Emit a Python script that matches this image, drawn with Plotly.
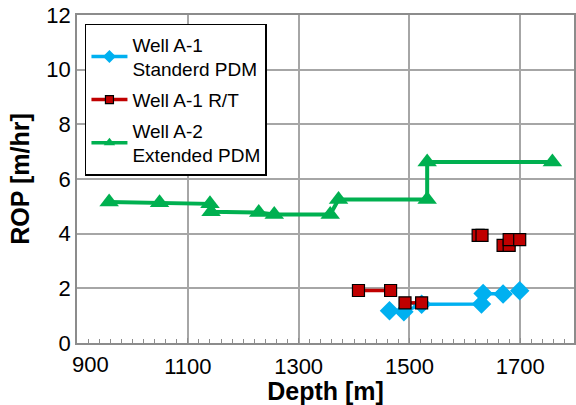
import plotly.graph_objects as go

# Well A-1 Standard PDM (blue diamonds)
a1_depth = [1464, 1490, 1522, 1630, 1633, 1669, None, 1699]
a1_rop = [1.18, 1.14, 1.42, 1.43, 1.81, 1.79, None, 1.91]

# Well A-1 R/T (red squares)
rt_depth = [1408, 1466, None, 1492, 1522, None, 1624, 1631, None, 1669, 1680, None, 1680, 1699]
rt_rop = [1.92, 1.92, None, 1.47, 1.47, None, 3.94, 3.94, None, 3.57, 3.57, None, 3.78, 3.78]

# Well A-2 Extended PDM (green triangles)
a2_depth = [958, 1049, 1140, 1142, 1228, 1256, 1357, 1372, 1532, 1532, 1758]
a2_rop = [5.16, 5.13, 5.09, 4.8, 4.77, 4.7, 4.7, 5.25, 5.25, 6.62, 6.62]

x_ticks = [900, 1100, 1300, 1500, 1700]
x_labels = ["", "1100", "1300", "1500", "1700"]  # "900" is drawn shifted right, as in the reference
first_x_label = "900"
y_ticks = [0, 2, 4, 6, 8, 10, 12]

series_names = ["Well A-1<br>Standerd PDM", "Well A-1 R/T", "Well A-2<br>Extended PDM"]

FONT = "Liberation Sans, Arial, sans-serif"
BLUE, RED, GREEN = "#00B0F0", "#C00000", "#00B050"

fig = go.Figure()
fig.add_trace(go.Scatter(
    x=a1_depth, y=a1_rop, mode="lines+markers", showlegend=False,
    line=dict(color=BLUE, width=3.5),
    marker=dict(symbol="diamond", size=15, color=BLUE),
))
fig.add_trace(go.Scatter(
    x=rt_depth, y=rt_rop, mode="lines+markers", showlegend=False,
    line=dict(color=RED, width=3.5),
    marker=dict(symbol="square", size=12, color=RED, line=dict(color="black", width=1.2)),
))
fig.add_trace(go.Scatter(
    x=a2_depth, y=a2_rop, mode="lines+markers", showlegend=False,
    line=dict(color=GREEN, width=4),
    marker=dict(symbol="triangle-up", size=17, color=GREEN),
))

# legend entries (smaller symbols, as in the reference legend)
fig.add_trace(go.Scatter(
    x=[None], y=[None], name=series_names[0], mode="lines+markers", legendgroup="a",
    line=dict(color=BLUE, width=3.5), marker=dict(symbol="diamond", size=10, color=BLUE),
))
fig.add_trace(go.Scatter(
    x=[None], y=[None], name=series_names[1], mode="lines+markers", legendgroup="b",
    line=dict(color=RED, width=3.5),
    marker=dict(symbol="square", size=8, color=RED, line=dict(color="black", width=1.2)),
))
fig.add_trace(go.Scatter(
    x=[None], y=[None], name=series_names[2], mode="lines+markers", legendgroup="c",
    line=dict(color=GREEN, width=3.5), marker=dict(symbol="triangle-up", size=10, color=GREEN),
))

fig.add_annotation(
    x=x_ticks[0], y=0, xref="x", yref="paper", text=first_x_label,
    showarrow=False, xanchor="center", yanchor="top", xshift=13, yshift=-7,
    font=dict(family=FONT, size=22, color="black"),
)

fig.update_layout(
    width=576, height=405,
    margin=dict(l=77, r=0, t=15, b=62),
    paper_bgcolor="white", plot_bgcolor="white",
    font=dict(family=FONT, size=22, color="black"),
    showlegend=True,
    legend=dict(
        x=0.016, y=0.973, xanchor="left", yanchor="top",
        bgcolor="white", bordercolor="black", borderwidth=1.5,
        font=dict(family=FONT, size=19, color="black"),
        tracegroupgap=3, itemwidth=36,
    ),
    xaxis=dict(
        range=[900, 1797], tickvals=x_ticks, ticktext=x_labels,
        showgrid=True, gridcolor="#A6A6A6", gridwidth=1.5,
        showline=True, linecolor="#8C8C8C", linewidth=1.5, mirror=True,
        ticks="inside", ticklen=5, tickcolor="#8C8C8C",
        minor=dict(dtick=20, tick0=900, ticks="inside", ticklen=4, tickcolor="#8C8C8C", showgrid=False),
        tickfont=dict(size=22), ticklabelstandoff=3,
        title=dict(text="<b>Depth [m]</b>", font=dict(size=25), standoff=2),
        zeroline=False,
    ),
    yaxis=dict(
        range=[0, 12], tickvals=y_ticks,
        showgrid=True, gridcolor="#A6A6A6", gridwidth=1.5,
        showline=True, linecolor="#8C8C8C", linewidth=1.5, mirror=True,
        ticks="", tickfont=dict(size=22),
        title=dict(text="<b>ROP [m/hr]</b>", font=dict(size=25), standoff=10),
        zeroline=False,
    ),
)

fig.write_html("out.html")
